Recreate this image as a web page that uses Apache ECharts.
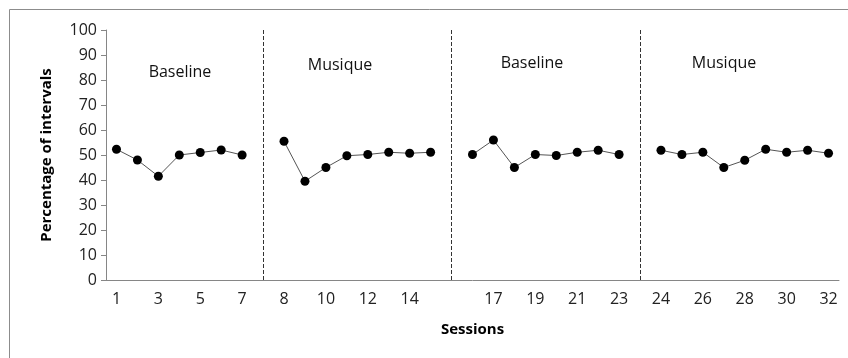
<!DOCTYPE html>
<html>
<head>
<meta charset="utf-8">
<script src="https://cdn.jsdelivr.net/npm/echarts@6/dist/echarts.min.js"></script>
<style>
  html, body { margin: 0; padding: 0; background: #fff; }
  #main { width: 848px; height: 358px; }
</style>
</head>
<body>
<div id="main"></div>
<script>
// session labels, '' = phase-change gap
const sessions = ['1','2','3','4','5','6','7','',
  '8','9','10','11','12','13','14','15','',
  '16','17','18','19','20','21','22','23','',
  '24','25','26','27','28','29','30','31','32'];

const baseline1 = [52.3, 48, 41.5, 50, 51, 52, 50];
const musique1 = [55.5, 39.5, 45, 49.7, 50.2, 51.1, 50.7, 51.1];
const baseline2 = [50.2, 56, 45, 50.2, 49.8, 51.1, 51.9, 50.2];
const musique2 = [51.9, 50.2, 51.1, 45, 47.9, 52.3, 51.1, 51.9, 50.7];

const phaseNames = ['Baseline', 'Musique', 'Baseline', 'Musique'];
const gapIdx = [7, 16, 25];

window.onload = function () {
  const chart = echarts.init(document.getElementById('main'));
  const values = [].concat(baseline1, [null], musique1, [null], baseline2, [null], musique2);
  const font = '"Open Sans", "Liberation Sans", sans-serif';
  const phaseX = [180, 340, 532, 724];
  const phaseY = [72, 65, 63, 63];

  const option = {
    backgroundColor: '#fff',
    animation: false,
    grid: { left: 106, top: 30, right: 9, bottom: 78 },
    xAxis: {
      type: 'category',
      data: sessions,
      boundaryGap: true,
      name: 'Sessions',
      nameLocation: 'middle',
      nameGap: 42,
      nameTextStyle: { fontFamily: font, fontWeight: 'bold', fontSize: 15, color: '#000' },
      axisLine: { lineStyle: { color: '#868686' } },
      axisTick: { interval: 0, length: 5, lineStyle: { color: '#868686' } },
      axisLabel: { interval: 1, fontFamily: font, fontSize: 16, color: '#222', margin: 11 }
    },
    yAxis: {
      type: 'value',
      min: 0,
      max: 100,
      interval: 10,
      name: 'Percentage of intervals',
      nameLocation: 'middle',
      nameGap: 52,
      nameRotate: 90,
      nameTextStyle: { fontFamily: font, fontWeight: 'bold', fontSize: 15, color: '#000' },
      axisLine: { show: true, lineStyle: { color: '#868686' } },
      axisTick: { show: true, length: 5, lineStyle: { color: '#868686' } },
      axisLabel: { fontFamily: font, fontSize: 16, color: '#222', margin: 9 },
      splitLine: { show: false }
    },
    series: [{
      type: 'line',
      data: values,
      connectNulls: false,
      symbol: 'circle',
      symbolSize: 9,
      itemStyle: { color: '#000' },
      lineStyle: { color: '#555', width: 1 },
      markLine: {
        silent: true,
        symbol: 'none',
        label: { show: false },
        lineStyle: { color: '#333', type: [4, 2], width: 1 },
        data: gapIdx.map(i => ({ xAxis: i }))
      }
    }],
    graphic: [
      {
        type: 'rect',
        shape: { x: 9.5, y: 9.5, width: 860, height: 380 },
        style: { fill: 'none', stroke: '#8c8c8c', lineWidth: 1 },
        silent: true
      }
    ].concat(phaseNames.map((t, i) => ({
      type: 'text',
      x: phaseX[i],
      y: phaseY[i],
      style: {
        text: t,
        fontFamily: font,
        fontSize: 16,
        fill: '#111',
        textAlign: 'center',
        textVerticalAlign: 'middle'
      }
    })))
  };
  chart.setOption(option);
};
</script>
</body>
</html>
